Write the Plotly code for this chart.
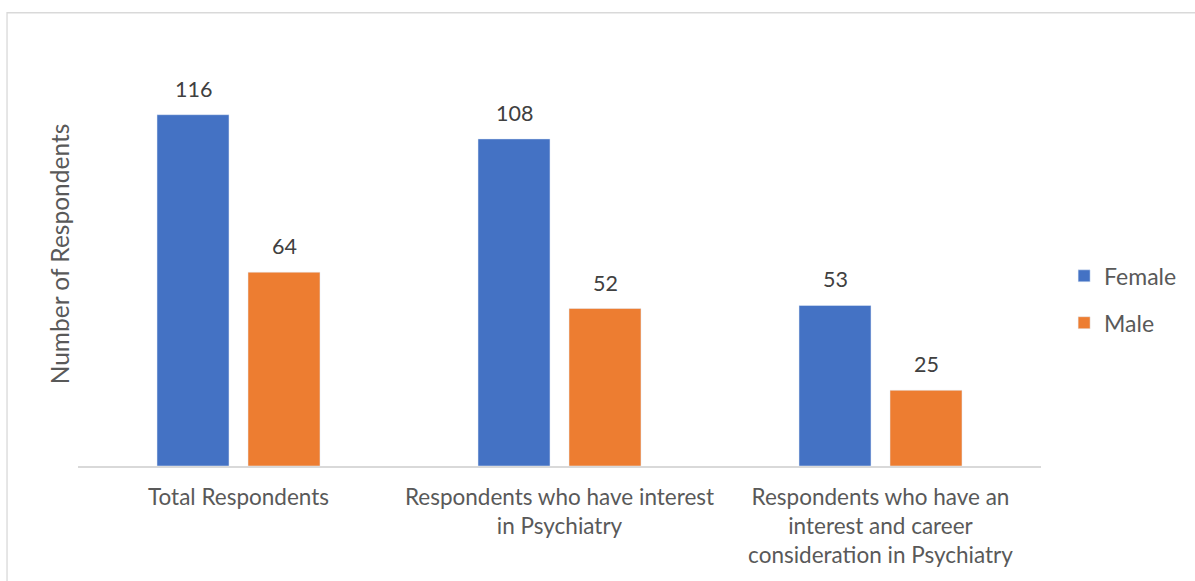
import plotly.graph_objects as go

categories = [
    "Total Respondents",
    "Respondents who have interest<br>in Psychiatry",
    "Respondents who have an<br>interest and career<br>consideration in Psychiatry",
]
female = [116, 108, 53]
male = [64, 52, 25]

FEMALE_COLOR = "#4472C4"
MALE_COLOR = "#ED7D31"
FONT = "Lato, Calibri, sans-serif"

fig = go.Figure()
fig.add_trace(go.Bar(x=categories, y=female, name="Female", marker_color=FEMALE_COLOR,
                     legendgroup="f", offsetgroup="f"))
fig.add_trace(go.Bar(x=categories, y=male, name="Male", marker_color=MALE_COLOR,
                     legendgroup="m", offsetgroup="m"))

# value labels above each bar
for series, shift in ((female, -45.5), (male, 45.5)):
    for cat, val in zip(categories, series):
        fig.add_annotation(x=cat, y=val, text=str(val), showarrow=False,
                           xshift=shift, yshift=26, yanchor="middle",
                           font=dict(family=FONT, size=21.5, color="#404040"))

# outer chart frame
fig.add_shape(type="rect", xref="paper", yref="paper",
              x0=-0.0737, x1=1.2, y0=-0.5, y1=1.069,
              line=dict(color="#D9D9D9", width=1.3), fillcolor="rgba(0,0,0,0)", layer="below")

fig.update_layout(
    width=1195, height=581,
    margin=dict(l=78, r=154, t=42, b=115, autoexpand=False),
    plot_bgcolor="white", paper_bgcolor="white",
    barmode="group", bargap=0.433, bargroupgap=0.209,
    font=dict(family=FONT, size=22.5, color="#595959"),
    showlegend=True,
    legend=dict(x=1.024, y=0.393, xanchor="left", yanchor="middle",
                font=dict(family=FONT, size=23, color="#595959"),
                tracegroupgap=14, itemwidth=30, bgcolor="rgba(0,0,0,0)"),
    xaxis=dict(showline=True, linecolor="#D9D9D9", linewidth=1.5, ticks="",
               ticklabelstandoff=10,
               tickfont=dict(family=FONT, size=22.5, color="#595959")),
    yaxis=dict(range=[0, 140], showgrid=False, showticklabels=False, zeroline=False,
               title=dict(text="Number of Respondents", standoff=0,
                          font=dict(family=FONT, size=24.5, color="#595959"))),
)

fig.write_html("out.html")
